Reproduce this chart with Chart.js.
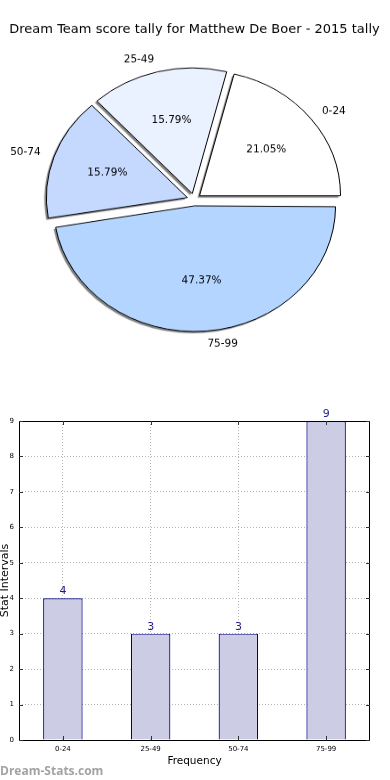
<!DOCTYPE html>
<html>
<head>
<meta charset="utf-8">
<script src="https://cdn.jsdelivr.net/npm/chart.js@4"></script>
<style>
  html, body { margin: 0; padding: 0; background: #fff; }
  #wrap { position: relative; width: 390px; height: 780px; overflow: hidden; }
  #pieChart { position: absolute; left: 0; top: 0; }
  #barChart { position: absolute; left: 0; top: 360px; }
</style>
</head>
<body>
<div id="wrap">
  <!-- drawn at 404px high, shown at 360px: gives the oval pie of the original -->
  <canvas id="pieChart" width="390" height="404" style="width:390px;height:360px"></canvas>
  <canvas id="barChart" width="390" height="420" style="width:390px;height:420px"></canvas>
</div>
<script>
// data
const chartTitle = 'Dream Team score tally for Matthew De Boer - 2015 tally';
const categories = ['0-24', '25-49', '50-74', '75-99'];
const counts = [4, 3, 3, 9];
const yTickMax = 9;

// slice colours, same order as categories
const sliceColors = ['#ffffff', '#eaf1ff', '#c5d9ff', '#b4d5ff'];

// pie is squashed vertically like the matplotlib original (axes not equal)
const SQUASH = 360 / 404;
const PIE_RADIUS = 141;
const EXPLODE = 28;   // chart.js moves slices offset/4 px

// pie goes counter-clockwise from east in the original, chart.js clockwise -> reverse
const pieLabels = categories.slice().reverse();
const pieData = counts.slice().reverse();
const pieColors = sliceColors.slice().reverse();
const total = counts.reduce((a, b) => a + b, 0);

function squashText(ctx, text, x, y, align) {
    ctx.save();
    ctx.translate(x, y);
    ctx.scale(1, 1 / SQUASH);
    ctx.textAlign = align;
    ctx.textBaseline = 'middle';
    ctx.fillText(text, 0, 0);
    ctx.restore();
}

const piePlugin = {
    id: 'piePlugin',
    afterUpdate(chart) {
        // chart.js grows the radius of exploded slices, undo that
        const meta = chart.getDatasetMeta(0);
        const R = meta.controller.outerRadius;
        meta.data.forEach(arc => {
            const o = (arc.options.offset || 0) / 4;
            const fix = 1 - Math.sin(Math.min(Math.PI, arc.circumference));
            arc.outerRadius = R - o * fix;
        });
    },
    beforeDatasetsDraw(chart) {
        // shadow pass: fills only, so the outlines cast no shadow
        const ctx = chart.ctx;
        ctx.save();
        ctx.shadowColor = 'rgba(0,0,0,0.5)';
        ctx.shadowOffsetX = -2;
        ctx.shadowOffsetY = 2;
        ctx.shadowBlur = 1;
        chart.getDatasetMeta(0).data.forEach(arc => {
            const bw = arc.options.borderWidth;
            arc.options.borderWidth = 0;
            arc.draw(ctx);
            arc.options.borderWidth = bw;
        });
        ctx.restore();
    },
    afterDraw(chart) {
        const ctx = chart.ctx;
        const meta = chart.getDatasetMeta(0);
        const R = meta.controller.outerRadius;
        ctx.save();
        ctx.fillStyle = '#000';
        ctx.font = '13px "DejaVu Sans"';
        squashText(ctx, chartTitle, 194.5, 33.5, 'center');

        ctx.font = '10.5px "DejaVu Sans"';
        meta.data.forEach((arc, i) => {
            const mid = (arc.startAngle + arc.endAngle) / 2;
            const c = Math.cos(mid), s = Math.sin(mid);
            const d = (arc.options.offset || 0) / 4;
            const cx = arc.x + c * d;
            const cy = arc.y + s * d;
            squashText(ctx, pieLabels[i], cx + c * R * 1.1, cy + s * R * 1.1, c >= 0 ? 'left' : 'right');
            const pct = (pieData[i] / total * 100).toFixed(2) + '%';
            squashText(ctx, pct, cx + c * R * 0.6, cy + s * R * 0.6, 'center');
        });
        ctx.restore();
    }
};

new Chart(document.getElementById('pieChart'), {
    type: 'pie',
    data: {
        labels: pieLabels,
        datasets: [{
            data: pieData,
            backgroundColor: pieColors,
            borderColor: '#000',
            borderWidth: 1,
            offset: EXPLODE,
            radius: PIE_RADIUS
        }]
    },
    options: {
        responsive: false,
        animation: false,
        events: [],
        rotation: 90,
        layout: { padding: { top: 44, left: 0, right: 2, bottom: 0 } },
        plugins: {
            legend: { display: false },
            tooltip: { enabled: false }
        }
    },
    plugins: [piePlugin]
});

// bar chart extras: frame, inward ticks, value labels, axis titles, watermark
const barPlugin = {
    id: 'barPlugin',
    afterDraw(chart) {
        const ctx = chart.ctx;
        const a = chart.chartArea;
        const xs = chart.scales.x, ys = chart.scales.y;
        ctx.save();
        ctx.strokeStyle = '#000';
        ctx.lineWidth = 1;
        ctx.strokeRect(a.left + 0.5, a.top + 0.5, a.right - a.left - 1, a.bottom - a.top);

        // matplotlib style ticks pointing inward
        ctx.strokeStyle = '#333';
        ctx.beginPath();
        ys.ticks.forEach((t, i) => {
            const y = Math.round(ys.getPixelForTick(i)) + 0.5;
            ctx.moveTo(a.left, y); ctx.lineTo(a.left + 4, y);
            ctx.moveTo(a.right, y); ctx.lineTo(a.right - 4, y);
        });
        xs.ticks.forEach((t, i) => {
            const x = Math.round(xs.getPixelForTick(i)) + 0.5;
            ctx.moveTo(x, a.top); ctx.lineTo(x, a.top + 4);
            ctx.moveTo(x, a.bottom); ctx.lineTo(x, a.bottom - 4);
        });
        ctx.stroke();

        ctx.fillStyle = '#1c1c8c';
        ctx.font = '11px "DejaVu Sans"';
        ctx.textAlign = 'center';
        ctx.textBaseline = 'alphabetic';
        chart.getDatasetMeta(0).data.forEach((bar, i) => {
            ctx.fillText(String(counts[i]), bar.x, bar.y - 4);
        });

        ctx.fillStyle = '#000';
        ctx.font = '10.5px "DejaVu Sans"';
        ctx.fillText('Frequency', (a.left + a.right) / 2, 404);

        ctx.save();
        ctx.translate(7.5, (a.top + a.bottom) / 2);
        ctx.rotate(-Math.PI / 2);
        ctx.font = '11px "DejaVu Sans"';
        ctx.fillText('Stat Intervals', 0, 0);
        ctx.restore();

        ctx.fillStyle = '#a3a3a3';
        ctx.font = 'bold 12px "Open Sans"';
        ctx.textAlign = 'left';
        ctx.fillText('Dream-Stats.com', 0, 415);
        ctx.restore();
    }
};

new Chart(document.getElementById('barChart'), {
    type: 'bar',
    data: {
        labels: categories,
        datasets: [{
            data: counts,
            backgroundColor: 'rgb(204,204,229)',
            borderColor: '#000080',
            borderWidth: 1.2,
            barPercentage: 0.45,
            categoryPercentage: 1
        }]
    },
    options: {
        responsive: false,
        animation: false,
        events: [],
        layout: { padding: { top: 61, left: 0, right: 20, bottom: 0 } },
        plugins: {
            legend: { display: false },
            tooltip: { enabled: false }
        },
        scales: {
            x: {
                z: 1,
                offset: true,
                grid: { offset: false, color: '#b5b5b5', drawTicks: false },
                border: { display: false, dash: [1, 2] },
                ticks: { color: '#000', font: { family: 'DejaVu Sans', size: 7 }, padding: 5 },
                afterFit(scale) { scale.height = 40; }
            },
            y: {
                z: 1,
                min: 0,
                max: yTickMax,
                grid: { color: '#b5b5b5', drawTicks: false },
                border: { display: false, dash: [1, 2] },
                ticks: { stepSize: 1, color: '#000', font: { family: 'DejaVu Sans', size: 7 }, padding: 5 },
                afterFit(scale) { scale.width = 19; }
            }
        }
    },
    plugins: [barPlugin]
});
</script>
</body>
</html>
